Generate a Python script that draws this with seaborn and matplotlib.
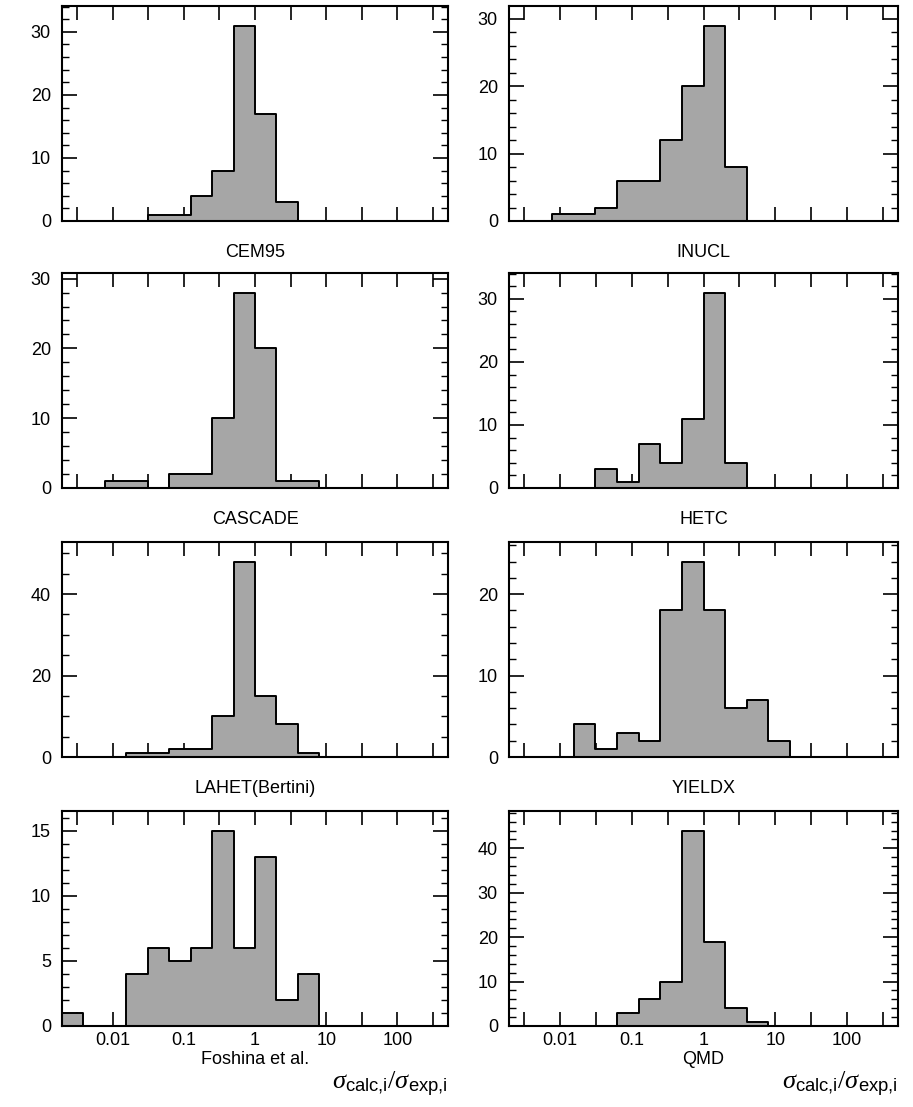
import numpy as np
import matplotlib
matplotlib.use('Agg')
import matplotlib.pyplot as plt
import matplotlib.ticker as mticker
import seaborn as sns

sns.set_style('ticks')
plt.rcParams['font.family'] = ['Liberation Sans', 'DejaVu Sans']
plt.rcParams['mathtext.fontset'] = 'custom'
plt.rcParams['mathtext.rm'] = 'Liberation Serif'
plt.rcParams['mathtext.it'] = 'Liberation Serif:italic'
plt.rcParams['mathtext.sf'] = 'Liberation Sans'
for key in ['text.color', 'axes.edgecolor', 'xtick.color', 'ytick.color', 'axes.labelcolor']:
    plt.rcParams[key] = 'black'

# model names (label under each histogram), row by row
models = ['CEM95', 'INUCL', 'CASCADE', 'HETC',
          'LAHET(Bertini)', 'YIELDX', 'Foshina et al.', 'QMD']

# lowest bin of each histogram as a power of two (bins are factor-2 wide)
first_bin = [-5, -7, -7, -5, -6, -6, -9, -4]

# counts per bin, starting at first_bin
counts_cem95 = [1, 1, 4, 8, 31, 17, 3]
counts_inucl = [1, 1, 2, 6, 6, 12, 20, 29, 8]
counts_cascade = [1, 1, 0, 2, 2, 10, 28, 20, 1, 1]
counts_hetc = [3, 1, 7, 4, 11, 31, 4]
counts_lahet = [1, 1, 2, 2, 10, 48, 15, 8, 1]
counts_yieldx = [4, 1, 3, 2, 18, 24, 18, 6, 7, 2]
counts_foshina = [1, 0, 0, 4, 6, 5, 6, 15, 6, 13, 2, 4]
counts_qmd = [3, 6, 10, 44, 19, 4, 1]

all_counts = [counts_cem95, counts_inucl, counts_cascade, counts_hetc,
              counts_lahet, counts_yieldx, counts_foshina, counts_qmd]

x_ticks = [0.01, 0.1, 1, 10, 100]
x_minor = [10 ** (e + 0.5) for e in range(-3, 3)]

# y tick spacing per panel (major, minor)
y_steps = [(10, 2), (10, 2), (10, 2), (10, 2), (20, 5), (10, 2), (5, 1), (10, 2)]

W, H = 913, 1107
fig = plt.figure(figsize=(W / 100, H / 100), dpi=100)

col_x = [62, 509]
col_w = [386, 389]
row_top = [6, 273, 542, 811]
ax_h = 215

for i, (name, cnt) in enumerate(zip(models, all_counts)):
    r, c = divmod(i, 2)
    ax = fig.add_axes([col_x[c] / W, 1 - (row_top[r] + ax_h) / H, col_w[c] / W, ax_h / H])

    k = np.arange(first_bin[i], first_bin[i] + len(cnt))
    centers = 2.0 ** (k + 0.5)
    sns.histplot(x=centers, weights=cnt, log_scale=2, binwidth=1, binrange=(-9, 9),
                 element='step', fill=True, color='#a6a6a6', alpha=1,
                 edgecolor='black', linewidth=1.4, ax=ax)

    ax.set_xlim(2 ** -9, 2 ** 9)
    ax.set_ylim(0, 1.1 * max(cnt))
    ax.xaxis.set_major_locator(mticker.FixedLocator(x_ticks))
    ax.xaxis.set_minor_locator(mticker.FixedLocator(x_minor))
    ax.xaxis.set_minor_formatter(mticker.NullFormatter())
    ax.yaxis.set_major_locator(mticker.MultipleLocator(y_steps[i][0]))
    ax.yaxis.set_minor_locator(mticker.MultipleLocator(y_steps[i][1]))

    if r == 3:
        ax.xaxis.set_major_formatter(mticker.FuncFormatter(lambda v, p: '%g' % v))
    else:
        ax.xaxis.set_major_formatter(mticker.NullFormatter())

    ax.tick_params(axis='x', which='both', direction='in', top=True, bottom=True,
                   length=10, width=1.2, labelsize=13, pad=4)
    ax.tick_params(axis='y', which='major', direction='in', left=True, right=True,
                   length=11, width=1.2, labelsize=13, pad=8)
    ax.tick_params(axis='y', which='minor', direction='in', left=True, right=True,
                   length=5, width=1.0)
    for s in ax.spines.values():
        s.set_linewidth(1.5)
        s.set_visible(True)
    ax.set_xlabel('')
    ax.set_ylabel('')

    ty = -0.155 if r == 3 else -0.145
    ax.text(0.5, ty, name, transform=ax.transAxes, ha='center', va='center',
            fontsize=13)
    if r == 3:
        ax.text(1.0, -0.27, r'$\sigma_{\mathsf{calc{,}i}}/\sigma_{\mathsf{exp{,}i}}$',
                transform=ax.transAxes, ha='right', va='center', fontsize=19)

fig.savefig('out.png', dpi=100)
